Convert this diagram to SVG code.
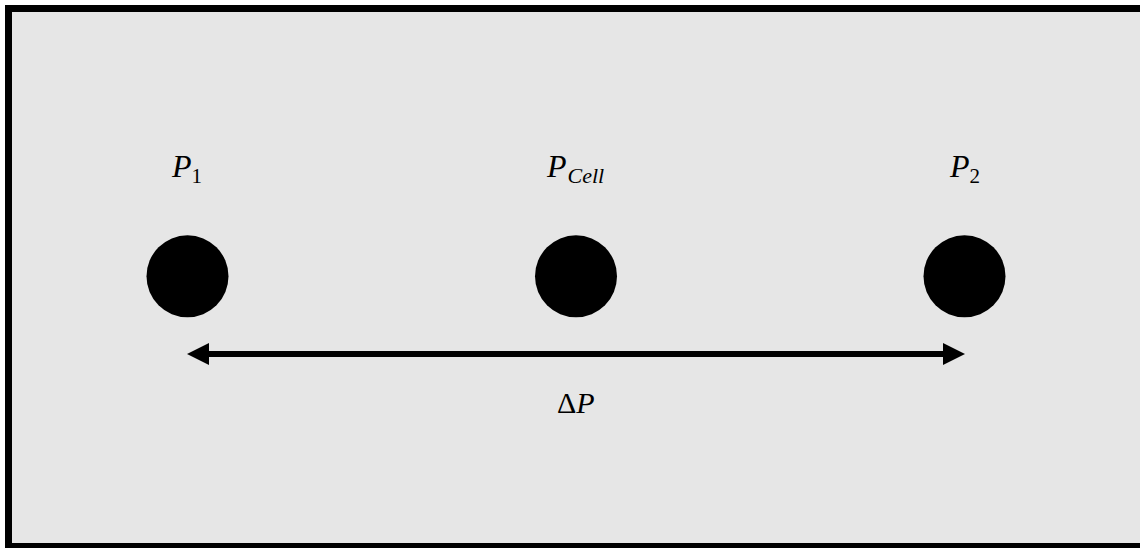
<svg xmlns="http://www.w3.org/2000/svg" width="1140" height="548" viewBox="0 0 1140 548">
<style>
.m{font-family:"Liberation Serif",serif;font-style:italic;fill:#000}
.s{font-family:"Liberation Serif",serif;fill:#000}
.dot{fill:#000}
</style>
<defs>
<marker id="ah" viewBox="0 0 22 22" refX="0" refY="11" markerWidth="22" markerHeight="22" markerUnits="userSpaceOnUse" orient="auto-start-reverse">
<path d="M0,0 L22,11 L0,22 Z" fill="#000"/>
</marker>
</defs>
<rect x="8.5" y="8.5" width="1137" height="538" fill="#e6e6e6" stroke="#000" stroke-width="7"/>
<g id="connectors">
<line x1="209" y1="354" x2="943" y2="354" stroke="#000" stroke-width="6" marker-start="url(#ah)" marker-end="url(#ah)"/>
<text class="m" x="557" y="413" font-size="30"><tspan font-style="normal">Δ</tspan>P</text>
</g>
<g id="p1">
<circle class="dot" cx="187.5" cy="276.3" r="41"/>
<text class="m" x="172" y="177" font-size="32">P<tspan class="s" font-style="normal" font-size="21" dy="6">1</tspan></text>
</g>
<g id="pcell">
<circle class="dot" cx="576" cy="276.3" r="41"/>
<text class="m" x="547" y="177" font-size="32">P<tspan font-size="22" dy="6" dx="1">Cell</tspan></text>
</g>
<g id="p2">
<circle class="dot" cx="964.5" cy="276.3" r="41"/>
<text class="m" x="950" y="177" font-size="32">P<tspan class="s" font-style="normal" font-size="21" dy="6">2</tspan></text>
</g>
</svg>
